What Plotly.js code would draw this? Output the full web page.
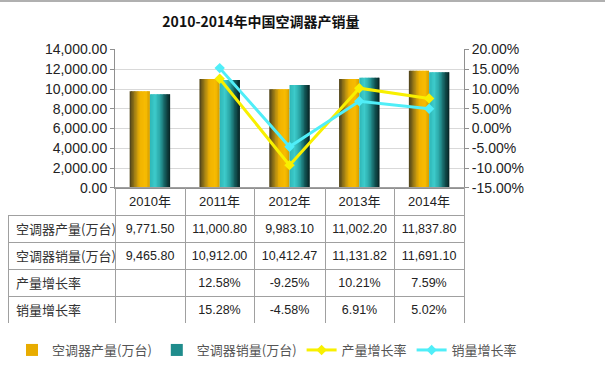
<!DOCTYPE html>
<html>
<head>
<meta charset="utf-8">
<script src="https://cdn.plot.ly/plotly-3.0.1.min.js"></script>
<style>html,body{margin:0;padding:0;background:#fff;}#chart{width:605px;height:365px;}</style>
</head>
<body>
<div id="chart"></div>
<script>
// ---- data ----
const chartTitle = '2010-2014年中国空调器产销量';
const years = ['2010年', '2011年', '2012年', '2013年', '2014年'];
const productionName = '空调器产量(万台)';
const salesName = '空调器销量(万台)';
const prodGrowthName = '产量增长率';
const salesGrowthName = '销量增长率';
const production = [9771.50, 11000.80, 9983.10, 11002.20, 11837.80];
const sales = [9465.80, 10912.00, 10412.47, 11131.82, 11691.10];
const prodGrowth = [null, 0.1258, -0.0925, 0.1021, 0.0759];
const salesGrowth = [null, 0.1528, -0.0458, 0.0691, 0.0502];
const rightTicks = [-0.15, -0.10, -0.05, 0, 0.05, 0.10, 0.15, 0.20];

// ---- styling helpers ----
const W = 605, H = 365;
const px = v => v / W, py = v => 1 - v / H;
const FONT = 'Liberation Sans, Arial, Noto Sans CJK SC, sans-serif';
const CJK = 'Noto Sans CJK SC, Liberation Sans, sans-serif';

function hex2rgb(h){return [1,3,5].map(i=>parseInt(h.substr(i,2),16));}
function grad(stops, t){
  for(let i=0;i<stops.length-1;i++){
    const [t0,c0]=stops[i],[t1,c1]=stops[i+1];
    if(t>=t0&&t<=t1){
      const f=(t-t0)/(t1-t0), a=hex2rgb(c0), b=hex2rgb(c1);
      return 'rgb('+a.map((v,k)=>Math.round(v+(b[k]-v)*f)).join(',')+')';
    }
  }
  return stops[stops.length-1][1];
}
const goldStops = [[0,'#4a3f1c'],[0.3,'#b08a14'],[0.5,'#f0b300'],[0.8,'#f8bc02'],[1,'#d49c00']];
const tealStops = [[0,'#2fb6b6'],[0.25,'#3dcbcb'],[0.5,'#2aa4a4'],[0.75,'#135a5a'],[1,'#072020']];

const BW = 0.29, N = 14, sw = BW / N;
const traces = [];
function addBars(vals, name, stops, start, legendColor){
  for(let i=0;i<N;i++){
    const t=(i+0.5)/N;
    traces.push({
      type:'bar', x:years, y:vals, name:name,
      offset: start + i*sw, width: (i===N-1? sw : sw*1.6),
      marker:{color:grad(stops,t), line:{width:0}},
      showlegend:false, hoverinfo:'skip', xaxis:'x', yaxis:'y'
    });
  }
  traces.push({type:'bar', x:[years[0]], y:[null], name:name, marker:{color:legendColor},
    showlegend:true, xaxis:'x', yaxis:'y'});
}
addBars(production, productionName, goldStops, -BW, '#e8ac00');
addBars(sales, salesName, tealStops, 0, '#1f8c8c');

traces.push({type:'scatter', mode:'lines+markers', x:years, y:prodGrowth, name:prodGrowthName,
  line:{color:'#f8f000', width:3}, marker:{symbol:'diamond', size:8, color:'#f8f000'},
  xaxis:'x', yaxis:'y2', connectgaps:false});
traces.push({type:'scatter', mode:'lines+markers', x:years, y:salesGrowth, name:salesGrowthName,
  line:{color:'#50eef8', width:3}, marker:{symbol:'diamond', size:8, color:'#50eef8'},
  xaxis:'x', yaxis:'y2', connectgaps:false});

// ---- table ----
const fmtNum = v => v.toLocaleString('en-US',{minimumFractionDigits:2, maximumFractionDigits:2});
const fmtPct = v => v===null ? '' : (v*100).toFixed(2)+'%';
const rowLabels = [productionName, salesName, prodGrowthName, salesGrowthName];
const columns = [rowLabels];
years.forEach((y,i)=>{
  columns.push([fmtNum(production[i]), fmtNum(sales[i]), fmtPct(prodGrowth[i]), fmtPct(salesGrowth[i])]);
});
traces.push({
  type:'table',
  domain:{x:[px(8), px(464)], y:[py(327), py(190)]},
  columnwidth:[107,70,69,71,69,70],
  header:{values:[''].concat(years), height:28, align:'center',
    line:{color:['rgba(0,0,0,0)','#a0a0a0','#a0a0a0','#a0a0a0','#a0a0a0','#a0a0a0'], width:1},
    fill:{color:'rgba(0,0,0,0)'},
    font:{family:FONT, size:13, color:'#222'}},
  cells:{values:columns, height:27, align:['left','center','center','center','center','center'],
    line:{color:'#a0a0a0', width:1}, fill:{color:'rgba(0,0,0,0)'},
    font:{family:[CJK,FONT,FONT,FONT,FONT,FONT], size:[13,12.5,12.5,12.5,12.5,12.5], color:['#333','#222','#222','#222','#222','#222']}}
});

const layout = {
  width:W, height:H, margin:{l:0,r:0,t:0,b:0},
  paper_bgcolor:'#fff', plot_bgcolor:'rgba(0,0,0,0)',
  barmode:'overlay', showlegend:true,
  title:{text:'<b>'+chartTitle+'</b>', x:px(261), xanchor:'center', y:py(22), yanchor:'middle',
    font:{family:CJK, size:14, color:'#111'}},
  xaxis:{domain:[px(115), px(464)], type:'category', range:[-0.5,4.5], showticklabels:false,
    showline:true, linecolor:'#909090', linewidth:1, ticks:'', showgrid:false, zeroline:false, fixedrange:true},
  yaxis:{domain:[py(190), py(50)], range:[0,14000], dtick:2000, tickformat:',.2f',
    showline:true, linecolor:'#909090', ticks:'outside', ticklen:4, tickcolor:'#909090',
    gridcolor:'#d9d9d9', zeroline:false, tickfont:{family:FONT, size:14, color:'#222'}},
  yaxis2:{overlaying:'y', side:'right', range:[-0.15,0.20], tickmode:'array',
    tickvals:rightTicks, ticktext:rightTicks.map(v=>(v*100).toFixed(2)+'%'),
    showline:true, linecolor:'#909090', ticks:'outside', ticklen:4, tickcolor:'#909090',
    showgrid:false, zeroline:false, tickfont:{family:FONT, size:14, color:'#222'}},
  legend:{orientation:'h', x:px(12), xanchor:'left', y:py(339), yanchor:'top',
    font:{family:CJK, size:13, color:'#555'}, bgcolor:'rgba(0,0,0,0)', traceorder:'normal'},
  shapes:[{type:'line', xref:'paper', yref:'paper', x0:0, x1:1, y0:py(1), y1:py(1), line:{color:'#b0b0b0', width:2}}]
};
Plotly.newPlot('chart', traces, layout, {displayModeBar:false, staticPlot:true});
</script>
</body>
</html>
